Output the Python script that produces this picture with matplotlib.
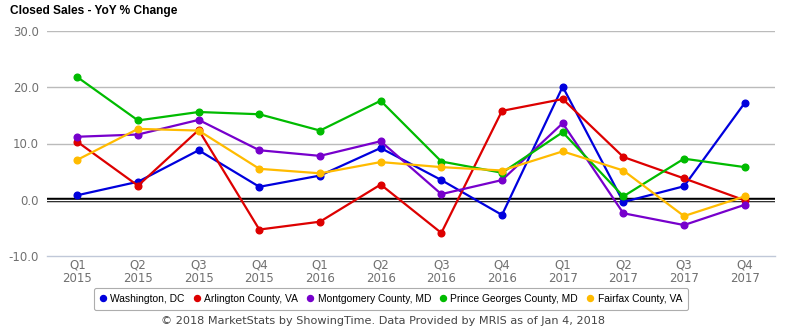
import matplotlib
matplotlib.use("Agg")
import matplotlib.pyplot as plt

quarters = ["Q1\n2015", "Q2\n2015", "Q3\n2015", "Q4\n2015",
            "Q1\n2016", "Q2\n2016", "Q3\n2016", "Q4\n2016",
            "Q1\n2017", "Q2\n2017", "Q3\n2017", "Q4\n2017"]

washington = [0.8, 3.2, 8.8, 2.3, 4.3, 9.2, 3.5, -2.7, 20.1, -0.4, 2.4, 17.2]
arlington = [10.3, 2.5, 12.4, -5.3, -3.9, 2.7, -5.9, 15.8, 17.9, 7.6, 3.8, -0.1]
montgomery = [11.2, 11.6, 14.2, 8.8, 7.8, 10.4, 1.0, 3.5, 13.6, -2.4, -4.5, -0.9]
prince_georges = [21.8, 14.1, 15.6, 15.2, 12.3, 17.6, 6.8, 4.8, 12.0, 0.6, 7.3, 5.8]
fairfax = [7.1, 12.6, 12.3, 5.5, 4.7, 6.7, 5.8, 5.2, 8.6, 5.2, -2.9, 0.6]

series = [
    ("Washington, DC", washington, "#0000dd"),
    ("Arlington County, VA", arlington, "#dd0000"),
    ("Montgomery County, MD", montgomery, "#7700cc"),
    ("Prince Georges County, MD", prince_georges, "#00bb00"),
    ("Fairfax County, VA", fairfax, "#ffbb00"),
]

yticks = [-10, 0, 10, 20, 30]

fig = plt.figure(figsize=(7.85, 3.3), dpi=100)
ax = fig.add_axes([47/785, 1-256/330, (775-47)/785, (256-31)/330])

x = list(range(len(quarters)))
for y in [10, 20, 30]:
    ax.axhline(y, color="#bbbbbb", lw=1.0, zorder=1)
ax.axhline(0, color="black", lw=3.2, zorder=2)
ax.axhline(0, color="white", lw=1.0, zorder=2)

for name, vals, col in series:
    ax.plot(x, vals, color=col, lw=1.6, marker="o", markersize=4.8,
            label=name, zorder=3)

ax.set_xlim(-0.5, 11.5)
ax.set_ylim(-10, 30)
ax.set_yticks(yticks)
ax.set_yticklabels([f"{v:.1f}" for v in yticks])
ax.set_xticks(x)
ax.set_xticklabels(quarters, linespacing=1.05)
ax.tick_params(axis="both", length=0, colors="#707070", labelsize=8.5)
ax.tick_params(axis="y", pad=6)
ax.tick_params(axis="x", pad=1.5)
for s in ["top", "right", "left"]:
    ax.spines[s].set_visible(False)
ax.spines["bottom"].set_color("#c0c8d8")
ax.spines["bottom"].set_linewidth(1.0)

fig.text(10/785, 1-11/330, "Closed Sales - YoY % Change", fontsize=8.6,
         fontweight="bold", family="Liberation Sans", va="center", ha="left")

leg = fig.legend(loc="center", bbox_to_anchor=(391/785, 1-299/330), ncol=5,
                 frameon=True, prop={"family": "Liberation Sans", "size": 7.4},
                 handlelength=0.6, handletextpad=0.4, columnspacing=0.9,
                 borderpad=0.55, markerscale=0.9, fancybox=True)
for h in leg.legend_handles:
    h.set_linestyle("none")
leg.get_frame().set_edgecolor("#999999")
leg.get_frame().set_linewidth(0.8)

fig.text(383/785, 1-321/330,
         "\u00a9 2018 MarketStats by ShowingTime. Data Provided by MRIS as of Jan 4, 2018",
         fontsize=8.1, color="#444444", ha="center", va="center")

fig.savefig("out.png", dpi=100)
